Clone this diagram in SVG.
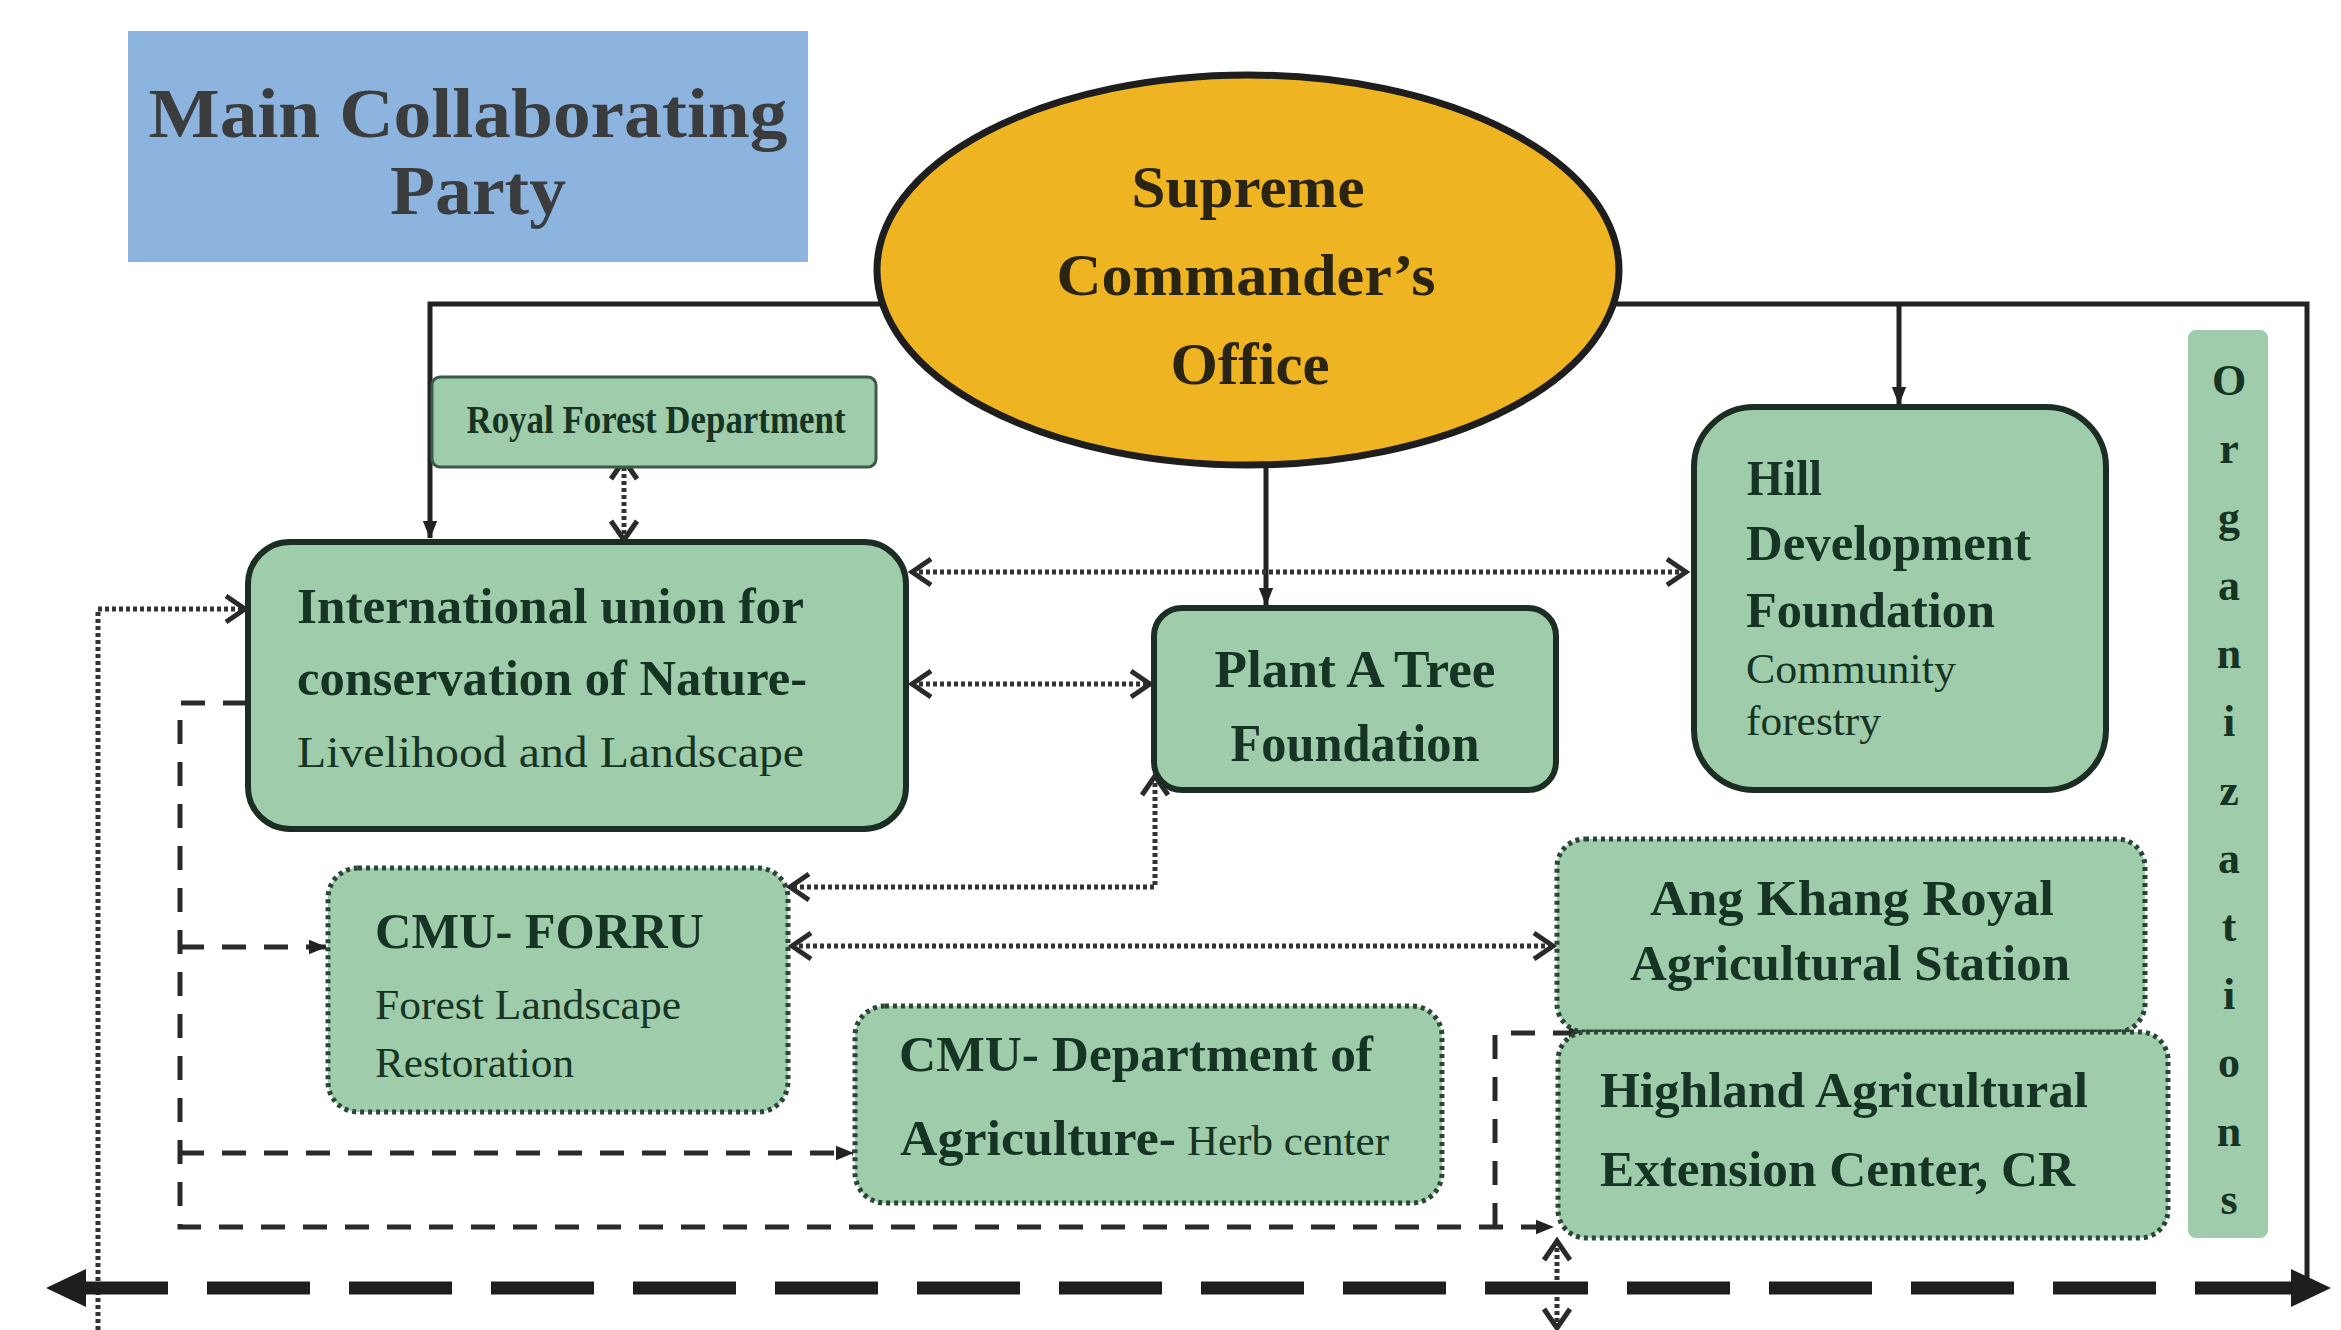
<svg xmlns="http://www.w3.org/2000/svg" width="2341" height="1330" viewBox="0 0 2341 1330">
<defs>
<style>
.bg{fill:#ffffff}
.box{fill:#9fccaa;stroke:#1c2e24;stroke-width:6}
.sbox{fill:#9fccaa;stroke:#3d5a48;stroke-width:3}
.dbox{fill:#9fccaa;stroke:#2a4636;stroke-width:5;stroke-dasharray:4 4}
.org{fill:#9fccaa}
.t{font-family:"Liberation Serif","Times New Roman",serif;fill:#163424}
.b{font-weight:bold}
.big{font-family:"Liberation Serif","Times New Roman",serif;font-weight:bold;fill:#3a3c3e;font-size:70px}
.ell{font-family:"Liberation Serif","Times New Roman",serif;font-weight:bold;fill:#2a2412;font-size:60px}
.solid{fill:none;stroke:#222;stroke-width:5}
.dot{fill:none;stroke:#333;stroke-width:5;stroke-dasharray:4 3}
.dash{fill:none;stroke:#2a2a2a;stroke-width:5;stroke-dasharray:24 18}
.thick{fill:none;stroke:#1e1e1e;stroke-width:13;stroke-dasharray:103 39;stroke-dashoffset:123}
</style>
<marker id="arr" viewBox="0 0 20 20" refX="19" refY="10" markerWidth="18" markerHeight="18" markerUnits="userSpaceOnUse" orient="auto-start-reverse">
<path d="M0,2 L20,10 L0,18 z" fill="#222"/>
</marker>
<marker id="chev" viewBox="0 0 26 32" refX="22" refY="16" markerWidth="26" markerHeight="32" markerUnits="userSpaceOnUse" orient="auto-start-reverse">
<path d="M3,3 L22,16 L3,29" fill="none" stroke="#2a2a2a" stroke-width="5"/>
</marker>
<marker id="bigarr" viewBox="0 0 40 40" refX="40" refY="20" markerWidth="40" markerHeight="40" markerUnits="userSpaceOnUse" orient="auto-start-reverse">
<path d="M0,1 L40,20 L0,39 z" fill="#1e1e1e"/>
</marker>
</defs>
<rect class="bg" x="0" y="0" width="2341" height="1330"/>

<g id="connectors">
<path class="solid" d="M884 304 H430 V538" marker-end="url(#arr)"/>
<path class="solid" d="M1612 304 H2307 V1287"/>
<path class="solid" d="M1899 304 V404" marker-end="url(#arr)"/>
<path class="solid" d="M1266 465 V605" marker-end="url(#arr)"/>
<path class="dot" d="M912 572 H1686" marker-start="url(#chev)" marker-end="url(#chev)"/>
<path class="dot" d="M912 684 H1150" marker-start="url(#chev)" marker-end="url(#chev)"/>
<path class="dot" d="M624 460 V540" marker-start="url(#chev)" marker-end="url(#chev)"/>
<path class="dot" d="M1155 776 V887 H790" marker-start="url(#chev)" marker-end="url(#chev)"/>
<path class="dot" d="M792 946 H1553" marker-start="url(#chev)" marker-end="url(#chev)"/>
<path class="dot" d="M98 1330 V609 H245" marker-end="url(#chev)"/>
<path class="dot" d="M1557 1241 V1328" marker-start="url(#chev)" marker-end="url(#chev)"/>
<path class="dash" d="M247 703 H180 V1227 H1553" marker-end="url(#arr)"/>
<path class="dash" d="M180 947 H326" marker-end="url(#arr)"/>
<path class="dash" d="M180 1153 H853" marker-end="url(#arr)"/>
<path class="dash" d="M1495 1227 V1033 H1586" marker-end="url(#arr)"/>
<path class="thick" d="M46 1288 H2331" marker-start="url(#bigarr)" marker-end="url(#bigarr)"/>
</g>

<g id="title">
<rect x="128" y="31" width="680" height="231" fill="#8db4de"/>
<text class="big" x="468" y="137" text-anchor="middle" textLength="639" lengthAdjust="spacingAndGlyphs">Main Collaborating</text>
<text class="big" x="478" y="214" text-anchor="middle" textLength="176" lengthAdjust="spacingAndGlyphs">Party</text>
</g>

<g id="supreme">
<ellipse cx="1248" cy="270" rx="371" ry="195" fill="#eeb421" stroke="#1e1e1e" stroke-width="7"/>
<text class="ell" x="1248" y="207" text-anchor="middle" textLength="233" lengthAdjust="spacingAndGlyphs">Supreme</text>
<text class="ell" x="1246" y="295" text-anchor="middle" textLength="379" lengthAdjust="spacingAndGlyphs">Commander’s</text>
<text class="ell" x="1250" y="384" text-anchor="middle" textLength="159" lengthAdjust="spacingAndGlyphs">Office</text>
</g>

<g id="rfd">
<rect class="sbox" x="432" y="377" width="444" height="90" rx="8"/>
<text class="t b" x="656" y="433" font-size="40" text-anchor="middle" textLength="379" lengthAdjust="spacingAndGlyphs">Royal Forest Department</text>
</g>

<g id="iucn">
<rect class="box" x="248" y="542" width="658" height="287" rx="42"/>
<text class="t b" x="297" y="623" font-size="51" textLength="507" lengthAdjust="spacingAndGlyphs">International union for</text>
<text class="t b" x="297" y="695" font-size="51" textLength="510" lengthAdjust="spacingAndGlyphs">conservation of Nature-</text>
<text class="t" x="297" y="767" font-size="44" textLength="507" lengthAdjust="spacingAndGlyphs">Livelihood and Landscape</text>
</g>

<g id="plant">
<rect class="box" x="1154" y="608" width="402" height="182" rx="28"/>
<text class="t b" x="1355" y="687" font-size="52" text-anchor="middle" textLength="281" lengthAdjust="spacingAndGlyphs">Plant A Tree</text>
<text class="t b" x="1355" y="761" font-size="52" text-anchor="middle" textLength="249" lengthAdjust="spacingAndGlyphs">Foundation</text>
</g>

<g id="hill">
<rect class="box" x="1694" y="407" width="412" height="383" rx="60"/>
<text class="t b" x="1747" y="495" font-size="51" textLength="75" lengthAdjust="spacingAndGlyphs">Hill</text>
<text class="t b" x="1746" y="560" font-size="51" textLength="285" lengthAdjust="spacingAndGlyphs">Development</text>
<text class="t b" x="1746" y="627" font-size="51" textLength="249" lengthAdjust="spacingAndGlyphs">Foundation</text>
<text class="t" x="1746" y="683" font-size="42" textLength="210" lengthAdjust="spacingAndGlyphs">Community</text>
<text class="t" x="1746" y="735" font-size="42" textLength="135" lengthAdjust="spacingAndGlyphs">forestry</text>
</g>

<g id="organizations">
<rect class="org" x="2188" y="330" width="80" height="908" rx="8"/>
<g class="t b" font-size="44" text-anchor="middle">
<text x="2229" y="395">O</text>
<text x="2229" y="463">r</text>
<text x="2229" y="532">g</text>
<text x="2229" y="600">a</text>
<text x="2229" y="668">n</text>
<text x="2229" y="736">i</text>
<text x="2229" y="805">z</text>
<text x="2229" y="873">a</text>
<text x="2229" y="941">t</text>
<text x="2229" y="1009">i</text>
<text x="2229" y="1077">o</text>
<text x="2229" y="1146">n</text>
<text x="2229" y="1214">s</text>
</g>
</g>

<g id="forru">
<rect class="dbox" x="328" y="868" width="460" height="244" rx="30"/>
<text class="t b" x="375" y="948" font-size="51" textLength="329" lengthAdjust="spacingAndGlyphs">CMU- FORRU</text>
<text class="t" x="375" y="1019" font-size="43" textLength="306" lengthAdjust="spacingAndGlyphs">Forest Landscape</text>
<text class="t" x="375" y="1077" font-size="43" textLength="199" lengthAdjust="spacingAndGlyphs">Restoration</text>
</g>

<g id="cmu-agri">
<rect class="dbox" x="855" y="1006" width="587" height="197" rx="30"/>
<text class="t b" x="899" y="1071" font-size="51" textLength="474" lengthAdjust="spacingAndGlyphs">CMU- Department of</text>
<text class="t b" x="900" y="1155" font-size="51" textLength="276" lengthAdjust="spacingAndGlyphs">Agriculture-</text>
<text class="t" x="1187" y="1155" font-size="42" textLength="202" lengthAdjust="spacingAndGlyphs">Herb center</text>
</g>

<g id="angkhang">
<rect class="dbox" x="1557" y="839" width="588" height="193" rx="28"/>
<text class="t b" x="1852" y="915" font-size="51" text-anchor="middle" textLength="404" lengthAdjust="spacingAndGlyphs">Ang Khang Royal</text>
<text class="t b" x="1850" y="980" font-size="51" text-anchor="middle" textLength="440" lengthAdjust="spacingAndGlyphs">Agricultural Station</text>
</g>

<g id="highland">
<rect class="dbox" x="1558" y="1032" width="610" height="206" rx="28"/>
<text class="t b" x="1600" y="1107" font-size="51" textLength="488" lengthAdjust="spacingAndGlyphs">Highland Agricultural</text>
<text class="t b" x="1600" y="1186" font-size="51" textLength="475" lengthAdjust="spacingAndGlyphs">Extension Center, CR</text>
</g>
</svg>
